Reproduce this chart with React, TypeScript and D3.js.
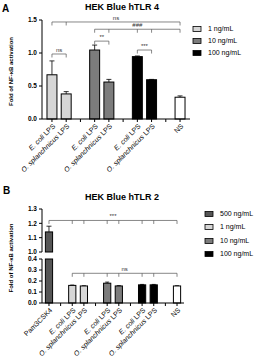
import * as d3 from "d3";
import React from "react";

// ---- panel A data (HEK Blue hTLR 4) ----
const slotsA = ["ec1", "os1", "g1", "ec10", "os10", "g2", "ec100", "os100", "g3", "ns"];
const labelsA = ["E. coli LPS", "O. splanchnicus LPS", "", "E. coli LPS", "O. splanchnicus LPS", "", "E. coli LPS", "O. splanchnicus LPS", "", "NS"];
const valuesA = [0.67, 0.38, null, 1.045, 0.56, null, 0.945, 0.595, null, 0.33];
const errorsA = [0.21, 0.035, null, 0.075, 0.04, null, 0.01, 0.005, null, 0.02];
const doseA = ["1", "1", null, "10", "10", null, "100", "100", null, "NS"];
const ticksA = [0, 0.5, 1.0, 1.5];
const bracketsA = [
  { y: 1.47, from: "ec1", to: "ns", drops: ["ec1", "os1", "ns"], label: "ns" },
  { y: 1.36, from: "ec10", to: "ns", drops: ["ec10", "os10", "ec100", "os100", "ns"], label: "###" },
  { y: 1.18, from: "ec10", to: "os10", drops: ["ec10", "os10"], label: "**" },
  { y: 1.045, from: "ec100", to: "os100", drops: ["ec100", "os100"], label: "***" },
  { y: 0.985, from: "ec1", to: "os1", drops: ["ec1", "os1"], label: "ns" },
];
const legendA = ["1", "10", "100"];

// ---- panel B data (HEK Blue hTLR 2) ----
const slotsB = ["pam", "g0", "ec1", "os1", "g1", "ec10", "os10", "g2", "ec100", "os100", "g3", "ns"];
const labelsB = ["Pam3CSK4", "", "E. coli LPS", "O. splanchnicus LPS", "", "E. coli LPS", "O. splanchnicus LPS", "", "E. coli LPS", "O. splanchnicus LPS", "", "NS"];
const valuesB = [1.14, null, 0.16, 0.155, null, 0.18, 0.155, null, 0.165, 0.165, null, 0.155];
const errorsB = [0.04, null, 0.003, 0.002, null, 0.01, 0.003, null, 0.004, 0.004, null, 0.002];
const doseB = ["500", null, "1", "1", null, "10", "10", null, "100", "100", null, "NS"];
const ticksBLow = [0, 0.1, 0.2, 0.3, 0.4];
const ticksBHigh = [1.0, 1.1, 1.2, 1.3];
const bracketsB = [
  { y: 1.22, from: "pam", to: "ns", drops: ["pam", "ec1", "os1", "ec10", "os10", "ec100", "os100", "ns"], label: "***", high: true },
  { y: 0.27, from: "ec1", to: "ns", drops: ["ec1", "os1", "ec10", "os10", "ec100", "os100", "ns"], label: "ns", high: false },
];
const legendB = ["500", "1", "10", "100"];

const fills: Record<string, string> = { "1": "#d6d6d6", "10": "#7c7c7c", "100": "#000000", "500": "#555555", NS: "#ffffff" };

const FONT = "Liberation Sans, Arial, sans-serif";

function fmt(v: number) {
  return d3.format(".1f")(v);
}

function XLabel({ text, x, y }: { text: string; x: number; y: number }) {
  const m = text.match(/^(E\. coli|O\. splanchnicus)(.*)$/);
  return (
    <text transform={`translate(${x},${y}) rotate(-45)`} textAnchor="end" fontSize={7} fontFamily={FONT} dy="0.35em">
      {m ? (
        <>
          <tspan fontStyle="italic">{m[1]}</tspan>
          <tspan>{m[2]}</tspan>
        </>
      ) : (
        text
      )}
    </text>
  );
}

function Bracket({ x1, x2, xs, y, label }: { x1: number; x2: number; xs: number[]; y: number; label: string }) {
  return (
    <g stroke="#555" strokeWidth={0.7} fill="none">
      <line x1={x1} x2={x2} y1={y} y2={y} />
      {xs.map((x, i) => (
        <line key={i} x1={x} x2={x} y1={y} y2={y + 3.5} />
      ))}
      <text x={(x1 + x2) / 2} y={y - 2} textAnchor="middle" fontSize={6} fontFamily={FONT} fill="#333" stroke="none">
        {label}
      </text>
    </g>
  );
}

function Legend({ keys, x, ys }: { keys: string[]; x: number; ys: number[] }) {
  return (
    <g>
      {keys.map((k, i) => (
        <g key={k} transform={`translate(${x},${ys[i]})`}>
          <rect x={0} y={-2.5} width={8} height={5} fill={fills[k]} stroke="#000" strokeWidth={0.8} />
          <text x={15} y={0} dy="0.35em" fontSize={7} fontFamily={FONT}>{`${k} ng/mL`}</text>
        </g>
      ))}
    </g>
  );
}

function PanelA() {
  const x = d3.scalePoint<string>().domain(slotsA).range([42, 190]).padding(0.7);
  const y = d3.scaleLinear().domain([0, 1.5]).range([119, 20]);
  const bw = x.step() * 0.7;
  const axisY = y(0);
  return (
    <g>
      <text x={2} y={12} fontSize={10} fontWeight="bold" fontFamily={FONT}>A</text>
      <text x={122} y={10} textAnchor="middle" fontSize={9} fontWeight="bold" fontFamily={FONT}>HEK Blue hTLR 4</text>
      <text transform={`translate(13,${(y(0) + y(1.5)) / 2 + 2}) rotate(-90)`} textAnchor="middle" fontSize={6} fontWeight="bold" fontFamily={FONT}>
        Fold of NF-κB activation
      </text>
      {/* bars */}
      {slotsA.map((s, i) => {
        const v = valuesA[i];
        if (v == null) return null;
        const cx = x(s)!;
        const top = y(v);
        const et = y(v + (errorsA[i] || 0));
        return (
          <g key={s}>
            <line x1={cx} x2={cx} y1={top} y2={et} stroke="#000" strokeWidth={0.8} />
            <line x1={cx - 2.5} x2={cx + 2.5} y1={et} y2={et} stroke="#000" strokeWidth={0.8} />
            <rect x={cx - bw / 2} y={top} width={bw} height={axisY - top} fill={fills[doseA[i]!]} stroke="#000" strokeWidth={1} />
          </g>
        );
      })}
      {/* y axis */}
      <line x1={42} x2={42} y1={y(1.5)} y2={axisY} stroke="#000" strokeWidth={1} />
      {ticksA.map((t) => (
        <g key={t}>
          <line x1={39} x2={42} y1={y(t)} y2={y(t)} stroke="#000" strokeWidth={1} />
          <text x={37} y={y(t)} dy="0.35em" textAnchor="end" fontSize={6.5} fontWeight="bold" fontFamily={FONT}>{fmt(t)}</text>
        </g>
      ))}
      {/* x axis */}
      <line x1={42} x2={190} y1={axisY} y2={axisY} stroke="#000" strokeWidth={1} />
      {slotsA.map((s, i) => (
        <g key={s}>
          <line x1={x(s)} x2={x(s)} y1={axisY} y2={axisY + 3} stroke="#000" strokeWidth={1} />
          {labelsA[i] && <XLabel text={labelsA[i]} x={x(s)! + 2} y={axisY + 6} />}
        </g>
      ))}
      {bracketsA.map((b, i) => (
        <Bracket key={i} x1={x(b.from)!} x2={x(b.to)!} xs={b.drops.map((d) => x(d)!)} y={y(b.y)} label={b.label} />
      ))}
      <Legend keys={legendA} x={193} ys={[29, 41, 53]} />
    </g>
  );
}

function PanelB() {
  const x = d3.scalePoint<string>().domain(slotsB).range([42, 184]).padding(0.6);
  const yLow = d3.scaleLinear().domain([0, 0.4]).range([303, 259]);
  const yHigh = d3.scaleLinear().domain([1.0, 1.3]).range([252, 209]);
  const bw = x.step() * 0.62;
  const axisY = yLow(0);
  return (
    <g>
      <text x={3} y={194} fontSize={10} fontWeight="bold" fontFamily={FONT}>B</text>
      <text x={122} y={200} textAnchor="middle" fontSize={9} fontWeight="bold" fontFamily={FONT}>HEK Blue hTLR 2</text>
      <text transform={`translate(13,${(yHigh(1.3) + axisY) / 2 + 2}) rotate(-90)`} textAnchor="middle" fontSize={6} fontWeight="bold" fontFamily={FONT}>
        Fold of NF-κB activation
      </text>
      {slotsB.map((s, i) => {
        const v = valuesB[i];
        if (v == null) return null;
        const cx = x(s)!;
        const fill = fills[doseB[i]!];
        if (v > 0.4) {
          const top = yHigh(v);
          const et = yHigh(v + (errorsB[i] || 0));
          return (
            <g key={s}>
              <line x1={cx} x2={cx} y1={top} y2={et} stroke="#000" strokeWidth={0.8} />
              <line x1={cx - 2.5} x2={cx + 2.5} y1={et} y2={et} stroke="#000" strokeWidth={0.8} />
              <rect x={cx - bw / 2} y={top} width={bw} height={yHigh(1.0) - top} fill={fill} stroke="#000" strokeWidth={1} />
              <rect x={cx - bw / 2} y={yLow(0.4)} width={bw} height={axisY - yLow(0.4)} fill={fill} stroke="#000" strokeWidth={1} />
            </g>
          );
        }
        const top = yLow(v);
        const et = yLow(v + (errorsB[i] || 0));
        return (
          <g key={s}>
            <line x1={cx} x2={cx} y1={top} y2={et} stroke="#000" strokeWidth={0.8} />
            <line x1={cx - 2} x2={cx + 2} y1={et} y2={et} stroke="#000" strokeWidth={0.8} />
            <rect x={cx - bw / 2} y={top} width={bw} height={axisY - top} fill={fill} stroke="#000" strokeWidth={1} />
          </g>
        );
      })}
      {/* broken y axis */}
      <line x1={42} x2={42} y1={yHigh(1.3)} y2={yHigh(1.0)} stroke="#000" strokeWidth={1} />
      <line x1={42} x2={42} y1={yLow(0.4)} y2={axisY} stroke="#000" strokeWidth={1} />
      {ticksBHigh.map((t) => (
        <g key={"h" + t}>
          <line x1={39} x2={42} y1={yHigh(t)} y2={yHigh(t)} stroke="#000" strokeWidth={1} />
          <text x={37} y={yHigh(t)} dy="0.35em" textAnchor="end" fontSize={6.5} fontWeight="bold" fontFamily={FONT}>{fmt(t)}</text>
        </g>
      ))}
      {ticksBLow.map((t) => (
        <g key={"l" + t}>
          <line x1={39} x2={42} y1={yLow(t)} y2={yLow(t)} stroke="#000" strokeWidth={1} />
          <text x={37} y={yLow(t)} dy="0.35em" textAnchor="end" fontSize={6.5} fontWeight="bold" fontFamily={FONT}>{fmt(t)}</text>
        </g>
      ))}
      <line x1={42} x2={184} y1={axisY} y2={axisY} stroke="#000" strokeWidth={1} />
      {slotsB.map((s, i) => (
        <g key={s}>
          <line x1={x(s)} x2={x(s)} y1={axisY} y2={axisY + 3} stroke="#000" strokeWidth={1} />
          {labelsB[i] && <XLabel text={labelsB[i]} x={x(s)! + 2} y={axisY + 6} />}
        </g>
      ))}
      {bracketsB.map((b, i) => {
        const yy = b.high ? yHigh(b.y) : yLow(b.y);
        return <Bracket key={i} x1={x(b.from)!} x2={x(b.to)!} xs={b.drops.map((d) => x(d)!)} y={yy} label={b.label} />;
      })}
      <Legend keys={legendB} x={205} ys={[214, 227, 241, 254]} />
    </g>
  );
}

export default function App() {
  return (
    <svg width={258} height={362} style={{ position: "absolute", left: 0, top: 0, background: "#fff" }}>
      <PanelA />
      <PanelB />
    </svg>
  );
}
